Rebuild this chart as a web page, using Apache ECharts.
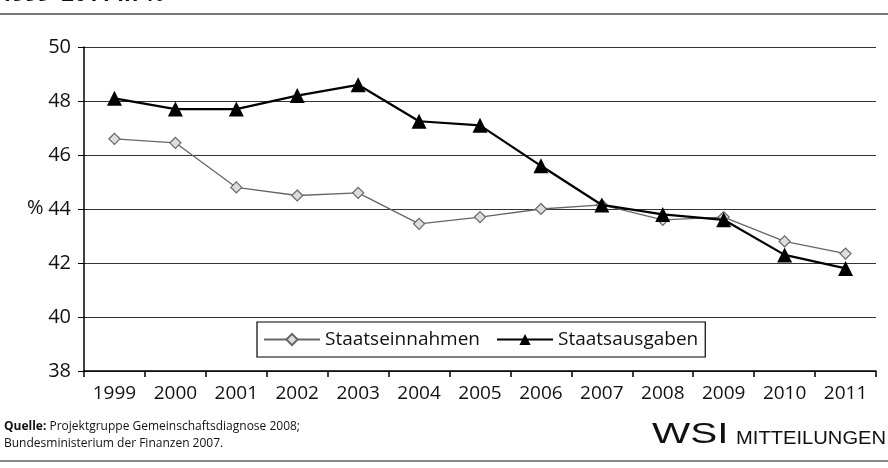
<!DOCTYPE html>
<html><head><meta charset="utf-8">
<script src="https://cdn.jsdelivr.net/npm/echarts@6/dist/echarts.min.js"></script>
<style>html,body{margin:0;padding:0;background:#fff}#c{width:888px;height:468px}</style>
</head><body><div id="c"></div>
<script>
const years = ['1999','2000','2001','2002','2003','2004','2005','2006','2007','2008','2009','2010','2011'];
const einnahmen = [46.6, 46.45, 44.8, 44.5, 44.6, 43.45, 43.7, 44.0, 44.15, 43.6, 43.7, 42.8, 42.35];
const ausgaben = [48.1, 47.7, 47.7, 48.2, 48.6, 47.25, 47.1, 45.6, 44.15, 43.8, 43.6, 42.3, 41.8];
const yTicks = [38, 40, 42, 44, 46, 48, 50];
const FONT = '"Open Sans", "Noto Sans", sans-serif';
const chart = echarts.init(document.getElementById('c'), null, {renderer: 'canvas'});
chart.setOption({
  animation: false,
  backgroundColor: '#fff',
  grid: {left: 84, right: 12, top: 47, bottom: 97},
  xAxis: {
    type: 'category', data: years, boundaryGap: true,
    axisLine: {lineStyle: {color: '#000', width: 1.5}},
    axisTick: {show: true, length: 6, lineStyle: {color: '#000', width: 1.5}},
    axisLabel: {color: '#111', fontSize: 19, fontFamily: FONT, margin: 13}
  },
  yAxis: {
    type: 'value', min: yTicks[0], max: yTicks[yTicks.length - 1], interval: 2,
    axisLine: {show: true, lineStyle: {color: '#000', width: 1.5}},
    axisTick: {show: true, length: 6, lineStyle: {color: '#000'}},
    axisLabel: {color: '#111', fontSize: 20, fontFamily: FONT, margin: 13},
    splitLine: {lineStyle: {color: '#333', width: 1}}
  },
  legend: {
    left: 257, top: 322, orient: 'horizontal',
    borderColor: '#000', borderWidth: 1.2, padding: [8, 7, 8, 6],
    itemGap: 16, itemWidth: 56, itemHeight: 14,
    textStyle: {color: '#111', fontSize: 19, fontFamily: FONT},
    data: ['Staatseinnahmen', 'Staatsausgaben']
  },
  series: [
    {
      name: 'Staatseinnahmen', type: 'line', data: einnahmen,
      symbol: 'diamond', symbolSize: 11,
      lineStyle: {color: '#666', width: 1.3},
      itemStyle: {color: '#ddd', borderColor: '#666', borderWidth: 1.2},
      z: 2
    },
    {
      name: 'Staatsausgaben', type: 'line', data: ausgaben,
      symbol: 'triangle', symbolSize: 15,
      lineStyle: {color: '#000', width: 2.2},
      itemStyle: {color: '#000'},
      z: 3
    }
  ],
  graphic: [
    {type: 'text', x: 0, y: -16, style: {text: '1999–2011 in %', fontSize: 22, fontWeight: 'bold', fontFamily: FONT, fill: '#111', verticalAlign: 'top'}},
    {type: 'rect', shape: {x: 0, y: 13, width: 888, height: 2}, style: {fill: '#777'}},
    {type: 'text', left: 27, top: 198, style: {text: '%', fontSize: 20, fontFamily: FONT, fill: '#111'}},
    {type: 'text', left: 4, top: 421, style: {
      rich: {b: {fontWeight: 'bold', fontSize: 12, fontFamily: FONT, fill: '#111'}, n: {fontSize: 12, fontFamily: FONT, fill: '#111'}},
      text: '{b|Quelle:}{n| Projektgruppe Gemeinschaftsdiagnose 2008;}', fill: '#111'}},
    {type: 'text', left: 4, top: 438, style: {text: 'Bundesministerium der Finanzen 2007.', fontSize: 12, fontFamily: FONT, fill: '#111'}},
    {type: 'text', x: 652, y: 435, scaleX: 1.35, style: {text: 'WSI', x: 0, y: 0, verticalAlign: 'middle', align: 'left', fontSize: 30, fontFamily: '"Liberation Sans", sans-serif', fill: '#111'}},
    {type: 'text', x: 736, y: 439, scaleX: 1.12, style: {text: 'MITTEILUNGEN', x: 0, y: 0, verticalAlign: 'middle', align: 'left', fontSize: 18, fontFamily: '"Liberation Sans", sans-serif', fill: '#111'}},
    {type: 'rect', shape: {x: 0, y: 460, width: 888, height: 2}, style: {fill: '#888'}}
  ]
});
</script></body></html>
